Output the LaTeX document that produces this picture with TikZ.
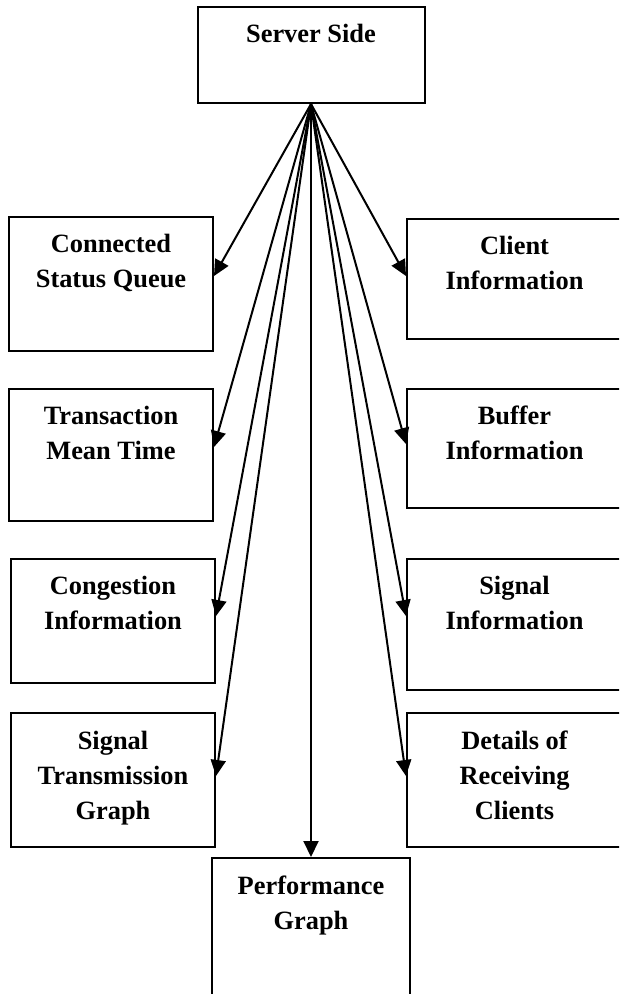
\documentclass[tikz,border=0pt]{standalone}
\usepackage{fontspec}
\setmainfont{Liberation Serif}
\usetikzlibrary{arrows.meta,positioning}

\begin{document}
\begin{tikzpicture}[x=1pt, y=-1pt,
  box/.style={draw, line width=2pt, inner sep=0pt},
  txt/.style={align=center, inner sep=0pt, font=\fontsize{26.4}{35}\selectfont\bfseries},
  link/.style={line width=2pt, -{Triangle[length=16pt,width=15pt]}}]
\useasboundingbox (0,0) rectangle (619,994);
\clip (0,0) rectangle (619,994);

\node[box, minimum width=227pt, minimum height=96pt] (server) at (311,55) {};
\node[box, minimum width=204pt, minimum height=134pt] (conn) at (111,284) {};
\node[box, minimum width=215pt, minimum height=120pt] (client) at (514.5,279) {};
\node[box, minimum width=204pt, minimum height=132pt] (trans) at (111,455) {};
\node[box, minimum width=215pt, minimum height=119pt] (buffer) at (514.5,448.5) {};
\node[box, minimum width=204pt, minimum height=124pt] (cong) at (113,621) {};
\node[box, minimum width=215pt, minimum height=131pt] (siginfo) at (514.5,624.5) {};
\node[box, minimum width=204pt, minimum height=134pt] (sigtx) at (113,780) {};
\node[box, minimum width=215pt, minimum height=134pt] (details) at (514.5,780) {};
\node[box, minimum width=198pt, minimum height=152pt] (perf) at (311,934) {};

\node[txt, below=18pt of server.north] (server-t) {Server Side};
\node[txt, below=18pt of conn.north] (conn-t) {Connected\\Status Queue};
\node[txt, below=18pt of client.north] (client-t) {Client\\Information};
\node[txt, below=18pt of trans.north] (trans-t) {Transaction\\Mean Time};
\node[txt, below=18pt of buffer.north] (buffer-t) {Buffer\\Information};
\node[txt, below=18pt of cong.north] (cong-t) {Congestion\\Information};
\node[txt, below=18pt of siginfo.north] (siginfo-t) {Signal\\Information};
\node[txt, below=19pt of sigtx.north] (sigtx-t) {Signal\\Transmission\\Graph};
\node[txt, below=19pt of details.north] (details-t) {Details of\\Receiving\\Clients};
\node[txt, below=19pt of perf.north] (perf-t) {Performance\\Graph};

\draw[link] (server.south) -- ([yshift=-60pt]conn.north east);
\draw[link] (server.south) -- ([yshift=-58pt]client.north west);
\draw[link] (server.south) -- ([yshift=-59pt]trans.north east);
\draw[link] (server.south) -- ([yshift=-56pt]buffer.north west);
\draw[link] (server.south) -- ([yshift=-58pt]cong.north east);
\draw[link] (server.south) -- ([yshift=-58pt]siginfo.north west);
\draw[link] (server.south) -- ([yshift=-64pt]sigtx.north east);
\draw[link] (server.south) -- ([yshift=-64pt]details.north west);
\draw[link] (server.south) -- (perf.north);
\end{tikzpicture}
\end{document}
